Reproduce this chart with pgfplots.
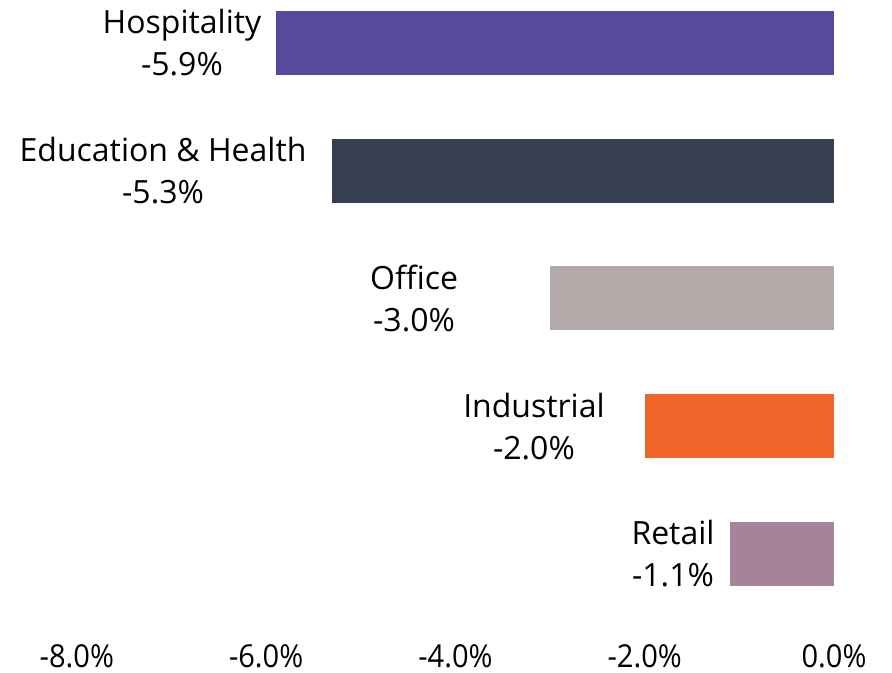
\documentclass[border=0pt]{standalone}
\usepackage{fontspec}
\setmainfont{Open Sans}
\usepackage{pgfplots}
\pgfplotsset{compat=1.18}
\usepackage{graphicx}

\definecolor{hosp}{HTML}{58499D}
\definecolor{edu}{HTML}{353F50}
\definecolor{office}{HTML}{B2AAA8}
\definecolor{indus}{HTML}{F0652A}
\definecolor{retail}{HTML}{A68498}

\begin{document}
\begin{tikzpicture}
\begin{axis}[
    x=47.325pt, y=63.85pt,
    y dir=reverse,
    xmin=-8.812, xmax=0.613,
    ymin=-0.337, ymax=4.933,
    axis line style={draw=none},
    major tick length=0pt,
    ytick=\empty,
    xtick={-8,-6,-4,-2,0},
    xticklabels={-8.0\%,-6.0\%,-4.0\%,-2.0\%,0.0\%},
    xticklabel style={anchor=base, yshift=2.5pt, inner sep=0pt,
        font=\fontsize{15.8}{19}\selectfont, xscale=0.92},
    xbar, bar width=32pt, bar shift=0pt,
    clip=false,
]
\addplot[draw=none, fill=hosp] coordinates {(-5.9,0)};
\addplot[draw=none, fill=edu] coordinates {(-5.3,1)};
\addplot[draw=none, fill=office] coordinates {(-3.0,2)};
\addplot[draw=none, fill=indus] coordinates {(-2.0,3)};
\addplot[draw=none, fill=retail] coordinates {(-1.1,4)};

\begin{scope}[every node/.style={align=center, anchor=center,
    font=\fontsize{16}{21}\selectfont}]
\node at (axis cs:-6.889,0) {Hospitality\\-5.9\%};
\node at (axis cs:-7.089,1) {Education \& Health\\-5.3\%};
\node at (axis cs:-4.437,2) {Office\\-3.0\%};
\node at (axis cs:-3.170,3) {Industrial\\-2.0\%};
\node at (axis cs:-1.701,4) {Retail\\-1.1\%};
\end{scope}

\coordinate (bl) at (rel axis cs:0,1);
\coordinate (tr) at (rel axis cs:1,0);
\end{axis}
\pgfresetboundingbox
\path (bl) rectangle (tr);
\end{tikzpicture}
\end{document}
